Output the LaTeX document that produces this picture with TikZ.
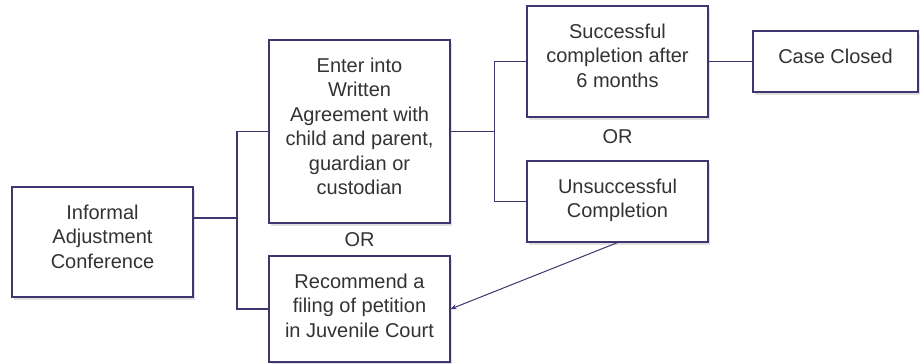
\documentclass[tikz,border=0pt]{standalone}
\usepackage{fontspec}
\setmainfont{Liberation Sans}
\usetikzlibrary{arrows.meta,shadows,calc}
\definecolor{boxline}{RGB}{62,54,110}
\definecolor{boxtext}{RGB}{51,51,51}
\newcommand{\boxlines}[3]{\parbox[t][#2][t]{#1}{\centering\rule{0pt}{32pt}#3}}

\begin{document}
\begin{tikzpicture}[x=1pt,y=-1pt]
\tikzset{stepbox/.style={draw=boxline,line width=1.2pt,fill=white,inner sep=0pt,text=boxtext,drop shadow={shadow xshift=2pt,shadow yshift=-3pt,opacity=0.3,fill=black!40}}}
\tikzset{link/.style={draw=boxline,line width=1.2pt}}
\tikzset{ortext/.style={text=boxtext,inner sep=0pt}}

\fontsize{20}{24.5}\selectfont
\useasboundingbox (0,0) rectangle (922,364);

\node[stepbox] (iac) at (102.5,242) {\boxlines{181pt}{110pt}{Informal\\Adjustment\\Conference}};
\node[stepbox] (agree) at (359.5,131.5) {\boxlines{181pt}{183pt}{Enter into\\Written\\Agreement with\\child and parent,\\guardian or\\custodian}};
\node[stepbox] (petition) at (359.5,309) {\boxlines{181pt}{106pt}{Recommend a\\filing of petition\\in Juvenile Court}};
\node[stepbox] (success) at (617.5,61.5) {\boxlines{181pt}{111pt}{Successful\\completion after\\6 months}};
\node[stepbox] (fail) at (617.5,201.5) {\boxlines{181pt}{81pt}{Unsuccessful\\Completion}};
\node[stepbox] (closed) at (835.5,61.5) {\boxlines{165pt}{61pt}{Case Closed}};

\node[ortext] (or1) at ($(agree.south)!0.5!(petition.north)$) {OR};
\node[ortext] (or2) at ($(success.south)!0.45!(fail.north)$) {OR};

\coordinate (j1) at (237,218);
\draw[link] ([yshift=24pt]iac.east) -- (j1);
\draw[link] (agree.west) -| (j1) |- (petition.west);
\draw[link] (agree.east) -- ++(44,0) coordinate (j2);
\draw[link] (success.west) -| (j2) |- (fail.west);
\draw[link] (success.east) -- (closed.west);
\draw[link,line width=1pt,-{Stealth[length=6pt,width=5pt]}] (fail.south) -- (petition.east);

\end{tikzpicture}
\end{document}
